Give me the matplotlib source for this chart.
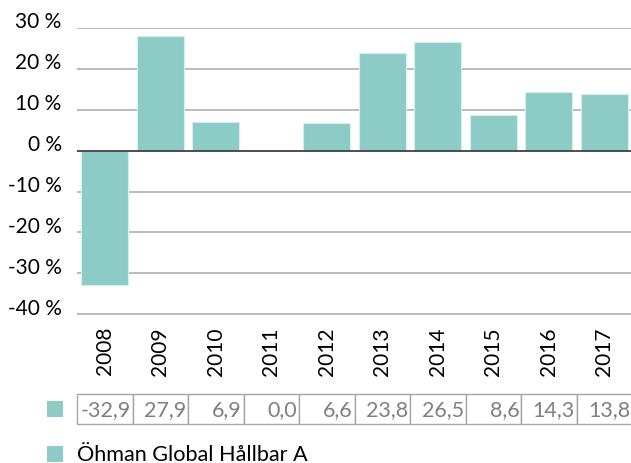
import matplotlib
matplotlib.use("Agg")
import matplotlib.pyplot as plt
from matplotlib.patches import Rectangle
from matplotlib.transforms import blended_transform_factory

years = ["2008", "2009", "2010", "2011", "2012", "2013", "2014", "2015", "2016", "2017"]
returns = [-32.9, 27.9, 6.9, 0.0, 6.6, 23.8, 26.5, 8.6, 14.3, 13.8]
yticks = [30, 20, 10, 0, -10, -20, -30, -40]
series_name = "Öhman Global Hållbar A"

W, H = 631, 464
plt.rcParams['font.family'] = ['Lato', 'DejaVu Sans']
fig = plt.figure(figsize=(W / 100, H / 100), dpi=100)

FS = 15
teal = "#8ccbc6"
ax_left, ax_right = 77, 632
ax_top, ax_bot = 28.5, 315.5
ax = fig.add_axes([ax_left / W, 1 - ax_bot / H, (ax_right - ax_left) / W, (ax_bot - ax_top) / H])

x = list(range(len(years)))
ax.bar(x, returns, width=0.85, color=teal, edgecolor="#d6efec", linewidth=0.8, zorder=3)
ax.set_xlim(-0.5, len(years) - 0.5)
ax.set_ylim(-40, 30)

for v in yticks:
    if v == 0:
        ax.axhline(v, color="#404040", lw=1.3, zorder=4)
    else:
        ax.axhline(v, color="#b5b5b5", lw=1.3, zorder=1)

for s in ax.spines.values():
    s.set_visible(False)
ax.set_yticks(yticks)
ax.set_yticklabels([f"{v} %" for v in yticks])
ax.tick_params(axis='y', length=0, pad=11, labelsize=FS)
for lab in ax.get_yticklabels():
    lab.set_verticalalignment('baseline')
ax.set_xticks([])

# year labels (rotated), below the axes
trans = blended_transform_factory(ax.transData, fig.transFigure)
for xi, yr in zip(x, years):
    ax.text(xi, 1 - 327 / H, yr, transform=trans, rotation=90, ha='center', va='top',
            fontsize=FS, color='black')

# data table
tbl_top, tbl_bot = 395, 425
h_ax = ax_bot - ax_top
tbl = ax.table(cellText=[[f"{v:.1f}".replace('.', ',') for v in returns]],
               cellLoc='right',
               bbox=[0, (ax_bot - tbl_bot) / h_ax, 1, (tbl_bot - tbl_top) / h_ax])
tbl.auto_set_font_size(False)
for (r, c), cell in tbl.get_celld().items():
    cell.set_edgecolor("#a6a6a6")
    cell.set_linewidth(1.0)
    cell.PAD = 0.03
    cell.get_text().set_fontsize(FS + 0.5)
    cell.get_text().set_color("#7f7f7f")

# legend keys
fig.patches.append(Rectangle((47 / W, 1 - 418 / H), 16 / W, 16 / H, transform=fig.transFigure,
                             facecolor=teal, edgecolor='none'))
fig.patches.append(Rectangle((47 / W, 1 - 463 / H), 16 / W, 16 / H, transform=fig.transFigure,
                             facecolor=teal, edgecolor='none'))
fig.text(77 / W, 1 - 455 / H, series_name, ha='left', va='center', fontsize=FS + 0.6, color='black')

fig.savefig("out.png", dpi=100)
